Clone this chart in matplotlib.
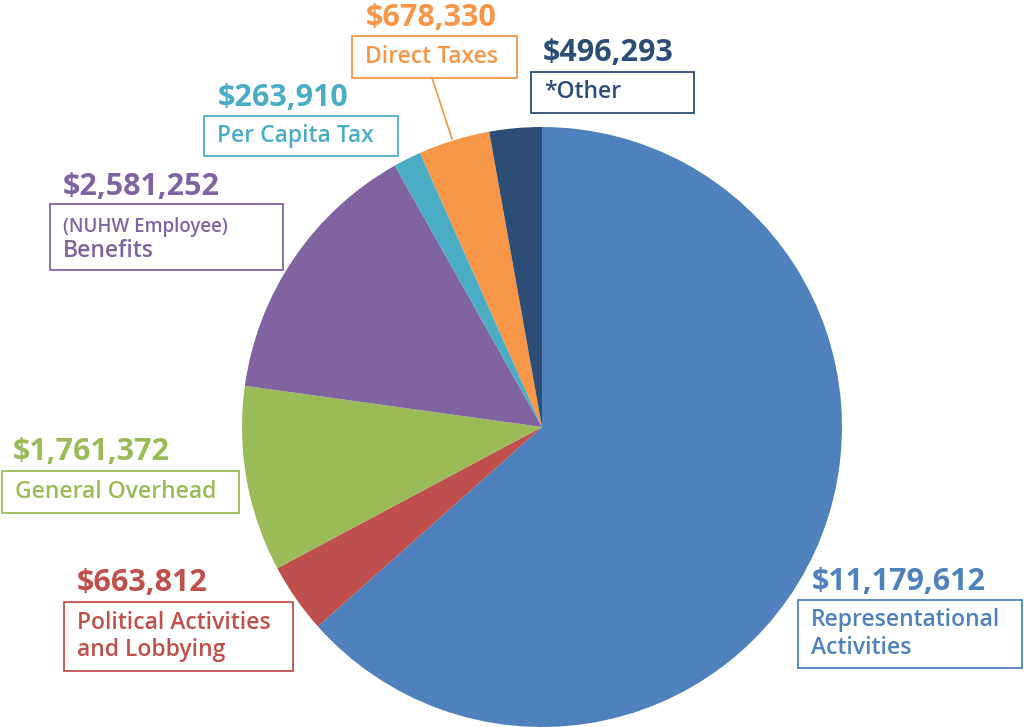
import matplotlib.pyplot as plt
from matplotlib.patches import Rectangle

# spending by category, clockwise from 12 o'clock
categories = ["Representational\nActivities", "Political Activities\nand Lobbying",
              "General Overhead", "(NUHW Employee)\nBenefits", "Per Capita Tax",
              "Direct Taxes", "*Other"]
amounts = [11179612, 663812, 1761372, 2581252, 263910, 678330, 496293]
colors = ["#4F81BD", "#C0504D", "#9BBB59", "#8064A2", "#4BACC6", "#F79646", "#2C4D75"]

W, H = 1024, 727
fig = plt.figure(figsize=(W / 100, H / 100), dpi=100)
ax = fig.add_axes([0, 0, 1, 1])
ax.set_xlim(0, W)
ax.set_ylim(0, H)
ax.set_aspect("equal")
ax.axis("off")

ax.pie(amounts, colors=colors, startangle=90, counterclock=False,
       center=(542, H - 427), radius=300, wedgeprops=dict(linewidth=0))
ax.set_xlim(0, W)
ax.set_ylim(0, H)

plt.rcParams["font.family"] = ["Open Sans", "DejaVu Sans"]

# label boxes in pixel coords (left, top, right, bottom), value x, value baseline y
boxes = [
    (798, 600, 1022, 668, 812, 590),
    (64, 602, 293, 671, 77, 591),
    (2, 471, 239, 513, 13, 460),
    (50, 204, 283, 270, 63, 195),
    (204, 116, 398, 156, 218, 106),
    (352, 36, 517, 78, 366, 26),
    (531, 72, 694, 113, 543, 61),
]

for cat, amt, col, (l, t, r, b, vx, vy) in zip(categories, amounts, colors, boxes):
    ax.add_patch(Rectangle((l, H - b), r - l, b - t, facecolor="white",
                           edgecolor=col, linewidth=1.3, zorder=3))
    ax.text(vx, H - vy, f"${amt:,}", color=col, fontsize=22, fontweight="bold",
            ha="left", va="baseline", zorder=4)
    if cat.startswith("(NUHW"):
        ax.text(l + 13, H - (t + 23), "(NUHW Employee)", color=col, fontsize=13.5,
                fontweight="semibold", ha="left", va="center", zorder=4)
        ax.text(l + 13, H - (t + 47), "Benefits", color=col, fontsize=16.5,
                fontweight="semibold", ha="left", va="center", zorder=4)
    else:
        ax.text(l + 13, H - (t + b) / 2, cat, color=col, fontsize=16.5,
                fontweight="semibold", ha="left", va="center", linespacing=1.2,
                zorder=4)

# leader line for Direct Taxes
ax.plot([432, 452], [H - 78, H - 139], color=colors[5], linewidth=1.2, zorder=2)

fig.savefig("out.png", dpi=100, facecolor="white")
